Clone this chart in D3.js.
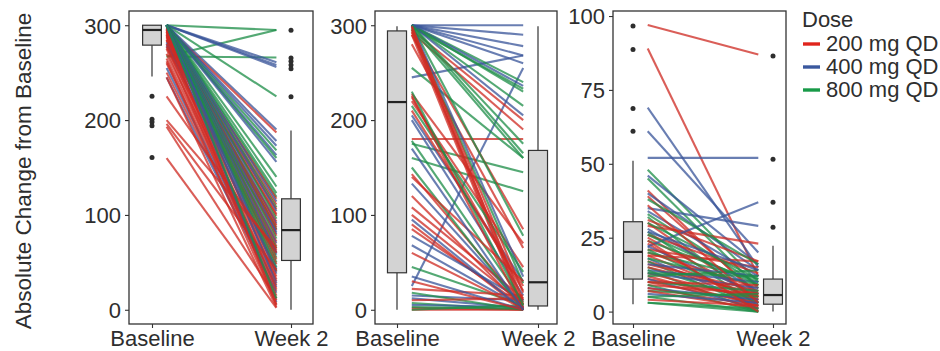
<!DOCTYPE html>
<html><head><meta charset="utf-8">
<script src="https://cdn.jsdelivr.net/npm/d3@7"></script>
<style>body{margin:0;background:#fff}svg{display:block;font-family:"Liberation Sans",Arial,sans-serif}</style>
</head><body><svg id="c" width="940" height="351"></svg>
<script>
// ---------------- DATA ----------------
const timepoints = ["Baseline", "Week 2"];
const doseLabels = ["200 mg QD", "400 mg QD", "800 mg QD"];
const doseCodes = [200, 400, 800];
const doseColors = ["#E0241C", "#3A589E", "#189A48"];
const lineColors = ["#CF2B24", "#3A569A", "#1E8E48"];
const legendTitle = "Dose";
const yTitle = "Absolute Change from Baseline";

const p1Ticks = [0, 100, 200, 300];
const p2Ticks = [0, 100, 200, 300];
const p3Ticks = [0, 25, 50, 75, 100];

// panel 1 paired values
const p1Base = [300,267,267,300,300,300,300,300,298,300,300,300,300,300,300,300,300,300,300,296,300,294,300,292,300,290,297,300,288,300,295,285,300,298,280,300,293,300,287,300,296,300,291,284,300,278,300,295,300,289,300,282,300,277,300,270,293,265,300,260,255,285,250,245,280,225,200,196,193,160,300,290,275,300,245,262];
const p1Wk2  = [295,295,266,261,258,256,225,190,187,178,173,168,163,160,156,140,130,123,119,117,114,111,108,106,104,101,99,96,93,91,89,87,85,84,82,80,78,75,72,70,67,65,63,61,60,58,55,53,50,48,45,43,41,40,38,35,32,30,28,26,24,22,20,18,15,60,65,42,12,2,8,5,10,12,3,6];
const p1Dose = [800,800,800,400,400,400,800,400,200,400,400,800,400,800,400,800,800,800,800,200,400,200,800,200,400,200,200,800,200,400,200,200,800,200,400,400,200,800,200,400,200,800,200,200,400,400,800,200,800,200,800,400,800,200,400,200,200,200,400,200,400,200,200,400,200,200,200,200,200,200,400,200,200,800,200,200];

// panel 2 paired values
const p2Base = [300,300,300,300,245,25,300,300,298,300,300,300,295,292,180,300,255,175,160,290,300,228,280,220,300,205,296,224,200,293,178,143,133,295,290,108,100,90,85,78,68,45,22,15,12,7,5,2,0,0,3,18,10,300,300,297,215,210,226,150,120,95,60,35,30,298,299,230,140,170];
const p2Wk2  = [300,290,278,268,268,255,240,236,233,230,215,205,200,190,180,165,160,145,125,85,78,70,65,45,35,30,28,20,15,10,8,5,3,2,0,12,6,0,4,10,2,5,15,10,2,0,3,0,0,5,1,0,12,260,175,160,40,25,0,0,2,0,1,0,0,18,6,5,30,0];
const p2Dose = [400,400,400,400,400,400,800,400,800,800,800,400,200,200,200,800,800,800,800,200,800,200,200,200,400,400,800,200,400,200,800,200,400,200,200,200,200,200,200,400,400,800,200,400,400,800,400,200,200,800,800,800,200,400,800,800,800,200,200,800,200,400,200,400,200,200,200,800,200,400];

// panel 3 paired values
const p3Base = [97,89,69,61,52,48,46,45,41,40,39,35,34,33,32,31,30,29,28,27,26,25,24,23,22,22,21,21,20,20,19,19,18,18,17,17,16,16,15,15,14,14,13,13,12,12,11,11,10,10,9,9,8,8,7,7,6,5,4,3,3,26,30,38,36,24,27,13,10,5];
const p3Wk2  = [87,12,15,20,52,10,16,8,5,14,6,29,12,9,3,17,4,23,7,2,13,5,10,1,37,6,15,3,8,11,4,17,2,9,5,1,7,12,3,6,10,0,4,8,2,14,5,1,7,3,6,0,4,2,5,1,3,0,2,1,0,9,11,16,3,0,14,12,9,6];
const p3Dose = [200,200,400,400,400,800,400,800,200,400,200,400,400,800,800,200,200,200,400,800,200,200,800,200,400,400,200,800,200,800,200,200,400,800,200,800,200,400,800,200,400,800,200,400,200,800,200,400,800,200,200,800,400,200,800,200,400,800,200,800,800,800,800,800,200,200,400,800,200,800];

// box statistics: [lower whisker, Q1, median, Q3, upper whisker]
const p1BoxBase = [246, 279, 295, 300, 300];
const p1BoxWk2  = [0, 52, 84, 117, 189];
const p2BoxBase = [0, 39, 219, 294, 299];
const p2BoxWk2  = [0, 4, 29, 168, 299];
const p3BoxBase = [2.5, 11, 20.2, 30.4, 51];
const p3BoxWk2  = [0, 2.5, 5.6, 11, 22.3];
// outliers
const p1OutBase = [225, 201, 198, 194, 160.5];
const p1OutWk2  = [294.6, 265.5, 262, 258, 254, 224.7];
const p2OutBase = [];
const p2OutWk2  = [];
const p3OutBase = [96.6, 88.7, 68.7, 61];
const p3OutWk2  = [86.5, 51.5, 37, 28.5];

// ---------------- LAYOUT ----------------
const panels = [
  {x0:129, x1:313, p1:152, p2:291, ydom:[-15,315], ticks:p1Ticks, base:p1Base, wk:p1Wk2, dose:p1Dose, bb:p1BoxBase, bw:p1BoxWk2, ob:p1OutBase, ow:p1OutWk2},
  {x0:375, x1:557, p1:397, p2:538, ydom:[-15,315], ticks:p2Ticks, base:p2Base, wk:p2Wk2, dose:p2Dose, bb:p2BoxBase, bw:p2BoxWk2, ob:p2OutBase, ow:p2OutWk2},
  {x0:613, x1:786, p1:633, p2:773, ydom:[-4.2,101.7], ticks:p3Ticks, base:p3Base, wk:p3Wk2, dose:p3Dose, bb:p3BoxBase, bw:p3BoxWk2, ob:p3OutBase, ow:p3OutWk2}
];
const yTop = 11, yBot = 324;
const fs = 22, textCol = "#2e2e2e", axisCol = "#333";

const svg = d3.select("#c");
const lineColor = d3.scaleOrdinal().domain(doseCodes).range(lineColors);

panels.forEach(P => {
  const x = d3.scaleLinear().domain([1, 2]).range([P.p1, P.p2]);
  const y = d3.scaleLinear().domain(P.ydom).range([yBot, yTop]);
  const g = svg.append("g");

  // lines
  const rows = P.base.map((b, i) => ({b, w: P.wk[i], d: P.dose[i]}));
  g.append("g").selectAll("line").data(rows).join("line")
    .attr("x1", x(1.105)).attr("x2", x(1.895))
    .attr("y1", d => y(d.b)).attr("y2", d => y(d.w))
    .attr("stroke", d => lineColor(d.d)).attr("stroke-width", 2.1)
    .attr("stroke-opacity", 0.76);

  // boxes
  const bw = 0.135;
  [[1, P.bb, P.ob], [2, P.bw, P.ow]].forEach(([pos, s, outs]) => {
    const bg = g.append("g");
    bg.append("line").attr("x1", x(pos)).attr("x2", x(pos)).attr("y1", y(s[0])).attr("y2", y(s[1]))
      .attr("stroke", axisCol).attr("stroke-width", 1.2);
    bg.append("line").attr("x1", x(pos)).attr("x2", x(pos)).attr("y1", y(s[3])).attr("y2", y(s[4]))
      .attr("stroke", axisCol).attr("stroke-width", 1.2);
    bg.append("rect").attr("x", x(pos - bw/2)).attr("width", x(pos + bw/2) - x(pos - bw/2))
      .attr("y", y(s[3])).attr("height", y(s[1]) - y(s[3]))
      .attr("fill", "#D3D3D3").attr("stroke", axisCol).attr("stroke-width", 1.2);
    bg.append("line").attr("x1", x(pos - bw/2)).attr("x2", x(pos + bw/2)).attr("y1", y(s[2])).attr("y2", y(s[2]))
      .attr("stroke", "#222").attr("stroke-width", 2.2);
    bg.selectAll("circle").data(outs).join("circle")
      .attr("cx", x(pos)).attr("cy", d => y(d)).attr("r", 2.5).attr("fill", "#2e2e2e");
  });

  // frame
  g.append("rect").attr("x", P.x0).attr("y", yTop).attr("width", P.x1 - P.x0).attr("height", yBot - yTop)
    .attr("fill", "none").attr("stroke", axisCol).attr("stroke-width", 1.3);

  // y axis
  const ya = g.append("g").attr("transform", `translate(${P.x0},0)`)
    .call(d3.axisLeft(y).tickValues(P.ticks).tickSize(4).tickPadding(4).tickFormat(d3.format("d")));
  ya.select(".domain").remove();
  ya.selectAll("line").attr("stroke", axisCol).attr("stroke-width", 1.1);
  ya.selectAll("text").attr("fill", textCol).style("font-size", fs + "px").attr("dy", "0.36em");

  // x axis
  const xs = d3.scalePoint().domain(timepoints).range([P.p1, P.p2]);
  const xa = g.append("g").attr("transform", `translate(0,${yBot})`)
    .call(d3.axisBottom(xs).tickSize(4).tickPadding(2));
  xa.select(".domain").remove();
  xa.selectAll("line").attr("stroke", axisCol).attr("stroke-width", 1.1);
  xa.selectAll("text").attr("fill", textCol).style("font-size", fs + "px").attr("dy", "0.74em");
});

// y title
svg.append("text").attr("transform", "translate(31,171) rotate(-90)")
  .attr("text-anchor", "middle").attr("fill", textCol).style("font-size", "22.5px").text(yTitle);

// legend
const lg = svg.append("g").attr("transform", "translate(802,0)");
lg.append("text").attr("x", 0).attr("y", 27).attr("fill", textCol).style("font-size", fs + "px").text(legendTitle);
doseLabels.forEach((lab, i) => {
  const yy = 44 + i * 23;
  lg.append("line").attr("x1", 1).attr("x2", 18).attr("y1", yy).attr("y2", yy)
    .attr("stroke", doseColors[i]).attr("stroke-width", 3.4);
  lg.append("text").attr("x", 24).attr("y", yy + 7).attr("fill", textCol).style("font-size", fs + "px").text(lab);
});
</script></body></html>
